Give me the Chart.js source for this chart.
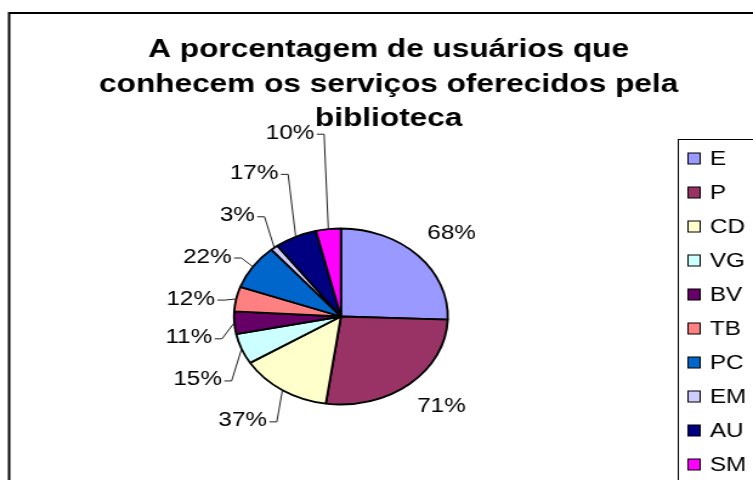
<!DOCTYPE html>
<html>
<head>
<meta charset="utf-8">
<script src="https://cdn.jsdelivr.net/npm/chart.js@4/dist/chart.umd.min.js"></script>
<style>
  html, body { margin: 0; padding: 0; background: #fff; overflow: hidden; }
  #wrap { width: 620px; height: 480px; transform: scaleX(1.2145); transform-origin: 0 0; }
</style>
</head>
<body>
<div id="wrap"><canvas id="c" width="620" height="480"></canvas></div>
<script>
// ---- data ----
const titleLines = ['A porcentagem de usuários que', 'conhecem os serviços oferecidos pela', 'biblioteca'];
const categories = ['E', 'P', 'CD', 'VG', 'BV', 'TB', 'PC', 'EM', 'AU', 'SM'];
const values = [68, 71, 37, 15, 11, 12, 22, 3, 17, 10];
const valueLabels = ['68%', '71%', '37%', '15%', '11%', '12%', '22%', '3%', '17%', '10%'];
const colors = ['#9999FF', '#993366', '#FFFFCC', '#CCFFFF', '#660066', '#FF8080', '#0066CC', '#CCCCFF', '#000080', '#FF00FF'];

// ---- label layout (distance from centre, angle shift in degrees, leader line) ----
const labelDist = [123, 122, 132, 134, 127, 125, 125, 132, 160, 188];
const labelShift = [1.8, -2.8, 4.6, -6.6, -5.6, -3.5, -6.1, -1.7, -1.5, -6.1];
const labelLeader = [false, false, true, true, true, true, true, true, true, true];

const FONT = '"Liberation Sans", Arial, sans-serif';

const decor = {
  id: 'decor',
  beforeDraw(chart) {
    const ctx = chart.ctx;
    ctx.save();
    ctx.fillStyle = '#fff';
    ctx.fillRect(0, 0, chart.width, chart.height);
    // outer frame
    ctx.strokeStyle = '#000';
    ctx.lineWidth = 2;
    ctx.strokeRect(7.5, 13, 700, 500);
    // title
    ctx.fillStyle = '#000';
    ctx.font = 'bold 26px ' + FONT;
    ctx.textAlign = 'center';
    ctx.textBaseline = 'alphabetic';
    titleLines.forEach((t, i) => ctx.fillText(t, 320, 57 + i * 34.5));
    ctx.restore();
  },
  afterDraw(chart) {
    const ctx = chart.ctx;
    const meta = chart.getDatasetMeta(0);
    ctx.save();
    // data labels with leader lines
    ctx.font = '20px ' + FONT;
    ctx.textAlign = 'center';
    ctx.textBaseline = 'middle';
    meta.data.forEach((arc, i) => {
      const mid = (arc.startAngle + arc.endAngle) / 2;
      const a = mid + labelShift[i] * Math.PI / 180;
      const lx = arc.x + Math.cos(a) * labelDist[i];
      const ly = arc.y + Math.sin(a) * labelDist[i];
      ctx.fillStyle = '#000';
      ctx.fillText(valueLabels[i], lx, ly);
      if (labelLeader[i]) {
        const w = ctx.measureText(valueLabels[i]).width;
        const ex = arc.x + Math.cos(mid) * arc.outerRadius;
        const ey = arc.y + Math.sin(mid) * arc.outerRadius;
        const sx = lx + w / 2 + 2;
        ctx.strokeStyle = '#222';
        ctx.lineWidth = 1;
        ctx.beginPath();
        ctx.moveTo(sx, ly + 1);
        ctx.lineTo(sx + 6, ly + 1);
        ctx.lineTo(ex, ey);
        ctx.stroke();
      }
    });
    // legend
    ctx.strokeStyle = '#000';
    ctx.lineWidth = 1;
    ctx.strokeRect(558.5, 139.5, 200, 400);
    ctx.font = '20px ' + FONT;
    ctx.textAlign = 'left';
    ctx.textBaseline = 'middle';
    categories.forEach((c, i) => {
      const y = 158.5 + i * 34;
      ctx.fillStyle = colors[i];
      ctx.fillRect(566.5, y - 5.5, 10, 11);
      ctx.strokeStyle = '#000';
      ctx.strokeRect(566.5, y - 5.5, 10, 11);
      ctx.fillStyle = '#000';
      ctx.fillText(c, 584.5, y + 1);
    });
    ctx.restore();
  }
};

new Chart(document.getElementById('c'), {
  type: 'pie',
  data: {
    labels: categories,
    datasets: [{
      data: values,
      backgroundColor: colors,
      borderColor: '#000',
      borderWidth: 1.8,
      radius: 88
    }]
  },
  options: {
    responsive: false,
    maintainAspectRatio: false,
    animation: false,
    devicePixelRatio: 1,
    layout: { padding: { left: 0, right: 58.6, top: 153, bottom: 0 } },
    plugins: {
      legend: { display: false },
      title: { display: false },
      tooltip: { enabled: false }
    }
  },
  plugins: [decor]
});
</script>
</body>
</html>
